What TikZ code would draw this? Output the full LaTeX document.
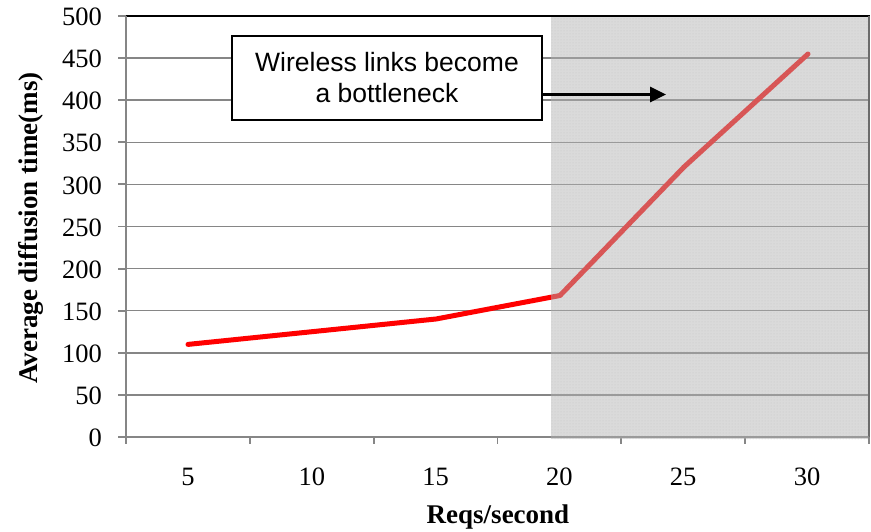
\documentclass[tikz,border=0pt]{standalone}
\usepackage{fontspec}
\setmainfont{Liberation Serif}
\newfontfamily\arialfont{Liberation Sans}
\usetikzlibrary{arrows.meta,patterns}
\definecolor{gridgray}{RGB}{134,134,134}
\definecolor{shadegray}{RGB}{177,177,177}
\definecolor{seriesred}{RGB}{255,0,0}
\tikzset{
  gridline/.style={draw=gridgray, line width=1.5pt},
  axisline/.style={draw=gridgray, line width=1.8pt},
  ticklabel/.style={font=\fontsize{26.5}{30}\selectfont, inner sep=0pt},
  axistitle/.style={font=\fontsize{27}{30}\selectfont\bfseries, inner sep=0pt},
  series/.style={draw=seriesred, line width=5pt, line cap=round, line join=round},
  callout/.style={draw=black, line width=1.8pt, fill=white, align=center,
    font=\arialfont\fontsize{26.5}{31}\selectfont, minimum width=310pt, minimum height=84pt, inner sep=0pt},
}
\begin{document}
\begin{tikzpicture}[x=1pt, y=-1pt]
\useasboundingbox (0,0) rectangle (871,532);
% horizontal grid lines and y ticks
\foreach \k in {1,...,9} {
  \draw[gridline] (126,{437-42.1*\k}) -- (869,{437-42.1*\k});
}
\foreach \k in {0,...,10} {
  \draw[axisline] (118,{437-42.1*\k}) -- (126,{437-42.1*\k});
  \pgfmathtruncatemacro{\val}{50*\k}
  \node[ticklabel, anchor=east] (yl\k) at (102,{438-42.1*\k}) {\val};
}
% top border and right border
\draw[black, line width=2pt] (126,16.1) -- (870,16.1);
\draw[draw=gridgray!80!black, line width=1.6pt] (869,16) -- (869,437);
% axes
\draw[axisline] (126,16) -- (126,438);
\draw[axisline] (126,437) -- (869,437);
\foreach \k in {0,...,6} {
  \draw[axisline] ({126+123.8*\k},437) -- ({126+123.8*\k},444);
}
% x tick labels
\foreach \v [count=\i from 0] in {5,10,15,20,25,30} {
  \node[ticklabel] (xl\i) at ({188+123.8*\i},477) {\v};
}
% data series
\coordinate (p5)  at (188,344.4);
\coordinate (p15) at (436,319);
\coordinate (p20) at (560,295.5);
\coordinate (p25) at (684,167);
\coordinate (p30) at (808,54);
\draw[series] (p5) -- (p15) -- (p20) -- (p25) -- (p30);
% shaded saturation region
\fill[shadegray, fill opacity=0.48] (551,17) rectangle (868,439);
\fill[pattern=dots, pattern color=black!35, fill opacity=0.35] (551,17) rectangle (868,439);
% axis titles
\node[axistitle, rotate=90] (ytitle) at (31,228) {Average diffusion time(ms)};
\node[axistitle] (xtitle) at (498,517) {Reqs/second};
% callout with arrow
\coordinate (tip) at (666,94.5);
\node[callout] (box) at (387,78) {Wireless links become\\a bottleneck};
\draw[line width=3pt, -{Triangle[length=16pt,width=15pt]}] (box.east |- tip) -- (tip);
\end{tikzpicture}
\end{document}
